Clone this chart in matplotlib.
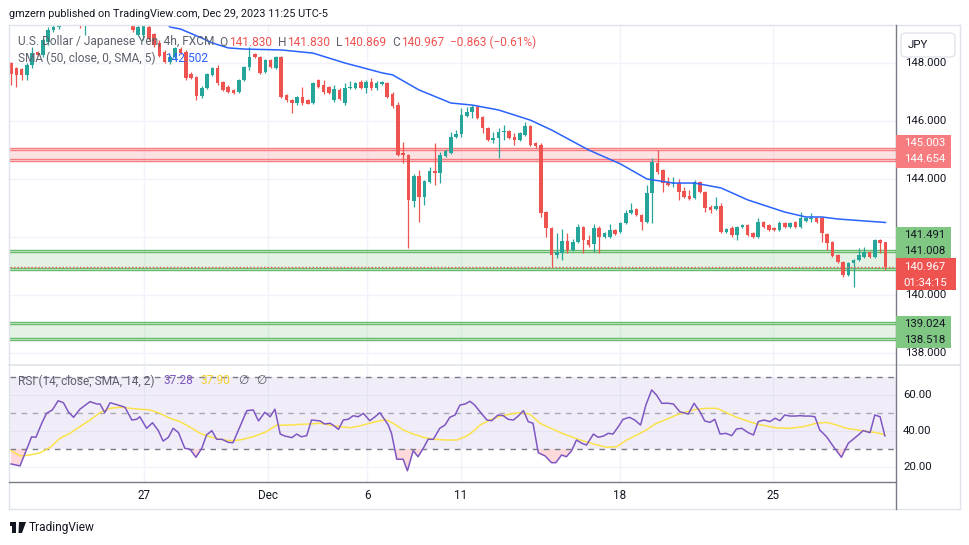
import matplotlib
matplotlib.use("Agg")
import matplotlib.pyplot as plt
import matplotlib.transforms as mtransforms
from matplotlib.patches import Rectangle, FancyBboxPatch, Polygon
from matplotlib.lines import Line2D
import numpy as np

# ---- data (USDJPY 4h, FXCM) ----
opens = [
    148.00, 147.83, 147.79, 147.59, 147.93, 148.38, 148.28, 148.72, 149.14,
    149.24, 149.55, 149.45, 149.62, 149.48, 149.30, 149.55, 149.70, 149.58, 149.45, 149.38, 149.58, 149.72, 149.60,
    149.45, 148.97, 148.95, 149.24, 149.00, 148.70, 148.38, 148.03, 148.20, 148.48,
    148.38, 147.62, 147.52, 146.86, 147.14, 147.59, 147.83, 147.34, 147.17, 147.07,
    147.00, 147.41, 147.86, 148.31, 148.21, 147.69, 148.10, 147.83,
    148.21, 146.90, 146.72, 146.62, 146.83, 146.72, 146.62, 147.41, 147.24, 147.17,
    146.72, 147.07, 146.62, 147.14, 147.14, 147.34, 147.14, 147.34, 147.14, 147.28,
    147.31, 146.93, 146.55, 144.90, 144.83, 143.24, 144.10, 143.38, 143.90, 144.28,
    144.21, 144.80, 144.90, 145.45, 145.55, 146.17, 146.31, 146.48, 146.14, 145.76,
    145.34, 145.41, 145.62, 145.66, 145.45, 145.34, 145.52, 145.83, 145.24, 145.17,
    142.86, 142.31, 141.38, 141.45, 141.86, 141.55, 141.83, 142.34, 141.90, 141.76,
    142.31, 142.00, 142.00, 142.24, 142.17, 142.48, 142.83, 142.97, 142.76, 142.52,
    143.52, 144.55, 144.31, 143.90, 143.83, 143.86, 143.59, 143.41, 143.34, 143.90,
    143.55, 143.03, 142.97, 143.07, 142.17, 142.31, 142.07, 142.34, 142.41, 142.14,
    142.00, 142.52, 142.41, 142.31, 142.24, 142.48, 142.34, 142.52, 142.34, 142.55,
    142.62, 142.66, 142.66, 142.10, 141.83, 141.38, 141.14, 140.69, 141.10, 141.21,
    141.31, 141.48, 141.31, 141.90, 141.830,
]
highs = [
    148.03, 147.86, 147.83, 148.00, 148.55, 148.41, 148.86, 149.24, 149.45,
    149.65, 149.62, 149.72, 149.66, 149.52, 149.60, 149.78, 149.80, 149.62, 149.50, 149.66, 149.80, 149.85, 149.66,
    149.50, 149.30, 149.35, 149.31, 149.05, 148.80, 148.45, 148.28, 148.55, 148.55,
    148.45, 147.69, 147.55, 147.20, 147.66, 147.86, 147.93, 147.38, 147.24, 147.10,
    147.45, 147.90, 148.55, 148.34, 148.24, 148.14, 148.14, 148.24,
    148.24, 146.93, 146.76, 146.86, 147.17, 146.76, 147.34, 147.45, 147.41, 147.20,
    147.24, 147.14, 147.31, 147.38, 147.34, 147.41, 147.41, 147.48, 147.38, 147.38,
    147.34, 147.00, 146.66, 145.28, 144.86, 144.17, 144.31, 143.97, 144.41, 145.24,
    144.93, 145.03, 145.62, 145.69, 146.45, 146.48, 146.55, 146.55, 146.17, 145.80,
    145.62, 145.76, 145.86, 145.69, 145.59, 145.62, 145.97, 145.86, 145.28, 145.24,
    142.90, 142.34, 142.14, 142.28, 142.14, 141.93, 142.45, 142.38, 142.07, 142.45,
    142.38, 142.17, 142.45, 142.28, 142.52, 142.93, 143.17, 143.00, 142.79, 143.79,
    144.72, 145.00, 144.35, 144.07, 144.07, 144.00, 143.72, 143.62, 143.97, 143.93,
    143.59, 143.10, 143.38, 143.17, 142.31, 142.38, 142.38, 142.45, 142.45, 142.17,
    142.66, 142.55, 142.45, 142.34, 142.55, 142.52, 142.52, 142.55, 142.86, 142.69,
    142.83, 142.69, 142.69, 142.14, 141.86, 141.41, 141.17, 141.14, 141.24, 141.62,
    141.66, 141.52, 141.93, 141.93, 141.830,
]
lows = [
    147.24, 147.17, 147.41, 147.41, 147.83, 148.24, 148.21, 148.62, 149.07,
    149.17, 149.38, 149.41, 149.35, 149.20, 148.97, 149.50, 149.52, 149.30, 149.31, 149.35, 149.52, 149.55, 149.40,
    149.07, 148.93, 148.79, 148.79, 148.55, 148.21, 148.00, 147.97, 148.14, 148.30,
    147.41, 147.45, 146.72, 146.79, 147.10, 147.55, 147.24, 147.03, 146.95, 146.93,
    146.95, 147.38, 147.76, 148.17, 147.62, 147.66, 147.83, 147.79,
    146.79, 146.66, 146.28, 146.55, 146.55, 146.59, 146.59, 147.14, 146.93, 146.93,
    146.66, 146.72, 146.55, 147.10, 147.10, 147.10, 146.97, 147.07, 147.07, 147.24,
    146.79, 146.45, 144.80, 144.55, 141.62, 143.03, 142.52, 143.10, 143.86, 143.79,
    143.86, 144.76, 144.86, 145.41, 145.45, 146.14, 146.10, 146.07, 145.59, 145.31,
    145.24, 144.72, 145.34, 145.38, 145.17, 145.31, 145.48, 145.14, 145.07, 142.69,
    142.00, 140.97, 141.28, 141.21, 141.45, 141.52, 141.79, 141.45, 141.66, 141.48,
    141.45, 141.97, 141.97, 142.07, 142.14, 142.45, 142.79, 142.72, 142.24, 142.48,
    142.48, 144.17, 143.55, 143.76, 143.72, 143.28, 143.34, 143.28, 143.31, 143.52,
    142.86, 142.83, 142.93, 142.14, 142.14, 142.00, 141.90, 142.31, 142.03, 141.97,
    141.97, 142.31, 142.20, 142.20, 142.20, 142.31, 142.31, 142.31, 142.31, 142.52,
    142.52, 142.48, 141.83, 141.55, 141.31, 141.10, 140.62, 140.66, 140.28, 141.17,
    141.28, 141.28, 141.28, 141.45, 140.869,
]
closes = [
    147.62, 147.59, 147.59, 147.93, 148.34, 148.28, 148.79, 149.14, 149.24,
    149.55, 149.45, 149.62, 149.48, 149.30, 149.55, 149.70, 149.58, 149.45, 149.38, 149.58, 149.72, 149.60, 149.48,
    149.14, 149.24, 149.28, 148.83, 148.62, 148.24, 148.05, 148.20, 148.50, 148.36,
    147.48, 147.48, 146.86, 147.14, 147.62, 147.83, 147.31, 147.07, 147.00, 146.97,
    147.41, 147.86, 148.21, 148.20, 147.66, 148.10, 147.86, 148.21,
    146.83, 146.72, 146.62, 146.83, 146.62, 146.60, 147.31, 147.17, 147.00, 146.97,
    147.10, 146.76, 147.14, 147.17, 147.31, 147.14, 147.34, 147.14, 147.31, 147.34,
    146.83, 146.50, 144.83, 144.83, 143.28, 144.10, 143.38, 143.93, 144.28, 144.21,
    144.83, 144.97, 145.45, 145.55, 146.21, 146.31, 146.48, 146.10, 145.76, 145.34,
    145.41, 145.62, 145.66, 145.41, 145.34, 145.59, 145.83, 145.17, 145.14, 142.83,
    142.31, 141.38, 141.48, 141.86, 141.55, 141.83, 142.34, 141.90, 141.72, 142.31,
    142.00, 142.14, 142.24, 142.10, 142.48, 142.83, 142.93, 142.76, 142.52, 143.52,
    144.59, 144.24, 143.86, 143.79, 143.86, 143.55, 143.38, 143.31, 143.90, 143.55,
    143.00, 142.93, 143.07, 142.17, 142.28, 142.07, 142.34, 142.41, 142.07, 142.00,
    142.52, 142.34, 142.24, 142.24, 142.48, 142.34, 142.48, 142.34, 142.66, 142.66,
    142.66, 142.52, 142.14, 141.79, 141.34, 141.14, 140.69, 141.10, 141.21, 141.38,
    141.48, 141.31, 141.90, 141.79, 140.967,
]

# SMA(50), at bar index positions
sma_bar = [29, 30, 32, 36, 38, 41, 44, 51, 57, 63, 70, 72, 77, 83, 87, 92, 98, 102,
           109, 115, 120, 125, 129, 134, 139, 146, 150, 153, 156, 165]
sma_val = [149.45, 149.24, 149.17, 148.86, 148.69, 148.52, 148.48, 148.45, 148.34, 148.00,
           147.66, 147.59, 147.07, 146.62, 146.55, 146.38, 146.03, 145.69, 145.00, 144.52,
           144.00, 143.86, 143.86, 143.69, 143.28, 142.86, 142.69, 142.69, 142.62, 142.50]

# RSI(14) and its SMA(14)
rsi_bar = [0, 1.7, 3.9, 4.7, 5.8, 6.7, 7.8, 8.9, 9.9, 10.8, 11.8, 13.0, 14.9, 16.2, 16.8, 17.7,
           18.7, 20.2, 21.5, 22.8, 23.7, 24.3, 25.6, 26.7, 27.8, 28.7, 29.7, 30.6, 31.6, 32.8,
           33.8, 34.9, 36.0, 36.9, 37.9, 38.8, 39.8, 41.0, 41.9, 43.2, 44.5, 45.7, 46.7, 47.9,
           48.9, 49.8, 50.8, 51.7, 53.0, 53.9, 54.8, 55.8, 56.7, 58.3, 59.2, 60.2, 60.8, 61.8,
           62.7, 63.6, 64.6, 65.5, 66.5, 67.7, 68.7, 69.6, 71.2, 71.8, 72.8, 74.0, 74.8, 75.9,
           76.8, 77.8, 78.7, 79.7, 80.9, 81.9, 82.8, 83.8, 84.7, 85.7, 86.6, 87.5, 88.5, 89.8,
           90.7, 91.9, 92.9, 93.8, 94.8, 95.7, 96.7, 97.6, 98.5, 99.5, 100.8, 102.0, 102.8,
           103.9, 104.8, 105.8, 106.7, 107.7, 108.6, 109.9, 110.8, 111.8, 112.7, 113.6, 114.6,
           115.5, 116.7, 117.7, 118.8, 119.8, 120.9, 121.8, 122.8, 124.0, 125.0, 126.2, 127.8,
           128.9, 130.0, 130.9, 131.9, 132.8, 133.8, 134.9, 136.0, 136.9, 137.9, 139.1, 140.1,
           141.0, 142.1, 143.2, 144.2, 145.1, 146.0, 147.0, 147.9, 148.9, 149.8, 150.8, 151.7,
           152.6, 153.9, 155.2, 156.7, 158.0, 158.9, 159.9, 160.8, 162.1, 163.0, 164.0, 164.9]
rsi_val = [21.7, 20.6, 36.8, 36.5, 44.3, 49.8, 51.7, 56.8, 55.7, 50.7, 47.6, 52.1, 56.3, 55.0, 55.0, 50.2,
           55.7, 54.4, 53.2, 46.1, 46.5, 47.9, 41.5, 44.6, 40.2, 34.4, 36.5, 41.5, 39.1, 30.4,
           29.8, 25.4, 30.4, 37.8, 40.2, 35.4, 35.4, 33.7, 33.5, 42.4, 51.3, 51.7, 45.6, 50.4,
           47.9, 52.1, 38.3, 37.2, 36.3, 38.3, 36.8, 37.4, 46.1, 45.6, 43.9, 44.3, 43.2, 40.9,
           46.1, 46.5, 48.5, 47.9, 49.8, 45.7, 47.9, 50.2, 43.3, 38.7, 24.3, 24.3, 17.9, 29.1,
           25.7, 30.4, 35.4, 35.4, 41.5, 43.3, 47.6, 48.9, 54.4, 55.0, 56.5, 54.4, 50.7, 46.1,
           45.7, 48.9, 48.5, 46.5, 46.1, 48.3, 51.3, 45.2, 44.3, 27.9, 26.1, 22.4, 22.4,
           26.7, 25.7, 29.1, 35.0, 33.2, 32.2, 38.3, 36.5, 37.2, 38.7, 38.3, 42.4,
           46.5, 47.6, 46.1, 43.3, 54.4, 62.8, 60.0, 55.4, 55.4, 55.0, 50.7, 49.4,
           55.4, 50.7, 45.6, 44.8, 46.5, 38.3, 38.7, 37.4, 41.1, 41.5, 39.1, 37.8,
           45.2, 46.1, 45.2, 47.1, 45.7, 48.9, 48.3, 48.3, 48.5, 48.3, 48.3, 47.9,
           40.6, 36.8, 31.3, 25.4, 33.2, 35.4, 37.8, 40.2, 39.1, 48.9, 47.9, 37.3]
rsi_ma_bar = [0, 1.7, 3.6, 5.5, 7.4, 9.2, 11.1, 13.0, 14.9, 16.8, 18.7, 20.6, 22.5, 24.3, 26.2,
              28.1, 30.0, 31.9, 33.8, 35.7, 37.5, 39.4, 41.3, 43.2, 45.7, 48.2, 50.1, 52.6, 54.5,
              56.4, 58.3, 60.2, 62.1, 64.0, 65.8, 67.7, 69.6, 70.9, 72.1, 74.0, 75.9, 77.8, 79.7,
              82.2, 84.1, 86.0, 87.3, 88.5, 90.4, 92.3, 94.2, 96.0, 97.9, 99.8, 102.3, 104.8,
              107.4, 109.9, 112.4, 114.3, 116.2, 118.1, 119.9, 121.8, 123.7, 125.6, 127.5, 129.4,
              131.3, 133.2, 135.0, 136.9, 138.8, 140.7, 142.6, 144.5, 147.0, 149.5, 152.0, 153.9,
              155.8, 157.7, 159.6, 161.5, 163.3, 164.9]
rsi_ma_val = [29.1, 26.1, 26.7, 27.9, 30.9, 35.9, 38.7, 42.4, 46.1, 50.2, 52.6, 53.2, 52.6, 52.1, 51.7,
              49.8, 47.1, 45.2, 42.1, 38.7, 36.8, 35.4, 34.6, 35.0, 36.8, 39.6, 43.2, 43.3, 43.7,
              43.9, 44.3, 43.3, 42.4, 41.8, 42.8, 44.3, 45.7, 46.1, 44.3, 40.6, 38.3, 36.5, 35.4,
              35.0, 35.0, 37.2, 40.0, 43.3, 46.1, 48.3, 49.4, 50.2, 49.4, 44.3, 40.9, 37.8,
              35.0, 32.8, 30.9, 31.3, 35.0, 37.8, 40.6, 44.3, 46.5, 48.9, 50.7, 52.1,
              52.6, 52.6, 50.2, 47.6, 45.7, 43.9, 42.8, 41.7, 41.5, 42.4, 44.3, 44.8,
              43.3, 41.5, 40.6, 39.8, 39.1, 37.9]

# zones (bottom, top)
resist_zone = (144.67, 145.02)
support_zone_1 = (140.90, 141.52)
support_zone_2 = (138.48, 139.04)

tick_pos = [25.1, 48.5, 67.2, 84.9, 114.9, 143.8]
tick_labels = ["27", "Dec", "6", "11", "18", "25"]
price_ticks = [138, 140, 142, 144, 146, 148]
price_labels_shown = [138, 140, 144, 146, 148]  # 142 sits under a badge
rsi_ticks = [20, 40, 60]

last_price = 140.967
sma_last = 142.502
rsi_last = 37.28
rsi_ma_last = 37.90

# ---- styling ----
plt.rcParams["font.family"] = ["Roboto", "DejaVu Sans"]
UP = "#26a69a"
DOWN = "#ef5350"
GRID = "#f0f3fa"
TXT = "#131722"
GRAY = "#5d606b"
W, H = 970, 545


def fx(px):
    return px / W


def fy(py):
    return 1 - py / H


fig = plt.figure(figsize=(9.7, 5.45), dpi=100)
fig.patch.set_facecolor("white")

ax = fig.add_axes([fx(10), fy(364), fx(896) - fx(10), fy(25) - fy(364)])
ax_rsi = fig.add_axes([fx(10), fy(482), fx(896) - fx(10), fy(366) - fy(482)])

for a in (ax, ax_rsi):
    a.set_xlim(-0.19, 167.0)
    for s in a.spines.values():
        s.set_visible(False)
    a.set_xticks(tick_pos)
    a.grid(True, color=GRID, lw=1)
    a.set_axisbelow(True)
    a.tick_params(length=0, labelleft=False, labelbottom=False)

ax.set_ylim(137.62, 149.31)
ax.set_yticks(price_ticks)
ax_rsi.set_ylim(11.67, 76.1)
ax_rsi.set_yticks(rsi_ticks)
ax_rsi.set_xticklabels(tick_labels)
ax_rsi.tick_params(labelbottom=True, pad=5, labelsize=8.4, labelcolor=TXT)


# zones
def zone(bounds, line_col, fill_col):
    lo, hi = bounds
    ax.axhspan(lo - 0.04, hi + 0.04, color=fill_col, alpha=0.22, lw=0, zorder=1)
    for y in (lo - 0.04, lo + 0.03, hi - 0.03, hi + 0.04):
        ax.axhline(y, color=line_col, lw=1, zorder=1.5)


zone(resist_zone, "#f77c80", "#f77c80")
zone(support_zone_1, "#66bb6a", "#81c784")
zone(support_zone_2, "#66bb6a", "#81c784")

# candles
o = np.array(opens)
h = np.array(highs)
l = np.array(lows)
c = np.array(closes)
idx = np.arange(len(o))
cols = np.where(c >= o, UP, DOWN)
ax.vlines(idx, l, h, colors=cols, lw=0.9, zorder=3)
ax.bar(idx, np.maximum(np.abs(c - o), 0.035), bottom=np.minimum(o, c),
       width=0.68, color=cols, lw=0, zorder=3)

ax.plot(sma_bar, sma_val, color="#2962ff", lw=1.1, zorder=4)
ax.axhline(last_price, color=DOWN, lw=1, ls=(0, (1, 1.5)), zorder=4)

# RSI pane
ax_rsi.axhspan(30, 70, color="#7e57c2", alpha=0.1, lw=0)
for lvl, al in ((70, 1), (50, 0.6), (30, 1)):
    ax_rsi.axhline(lvl, color="#787b86", lw=1, ls=(0, (4, 4)), alpha=al)
rx = np.array(rsi_bar)
rv = np.array(rsi_val)
ax_rsi.fill_between(rx, rv, 30, where=rv < 30, interpolate=True, color="#f7525f", alpha=0.22, lw=0)
ax_rsi.plot(rsi_ma_bar, rsi_ma_val, color="#fbe24b", lw=1.1)
ax_rsi.plot(rx, rv, color="#7e57c2", lw=1.1)


# frame lines
def fline(x0, y0, x1, y1, col, lw=1):
    fig.add_artist(Line2D([fx(x0), fx(x1)], [fy(y0), fy(y1)], color=col, lw=lw))


fline(9, 25, 960, 25, "#e0e3eb")
fline(9, 509, 960, 509, "#e0e3eb")
fline(9, 25, 9, 509, "#e0e3eb")
fline(960, 25, 960, 509, "#e0e3eb")
fline(9, 365, 960, 365, "#e0e3eb", lw=1.2)
fline(9, 482, 896, 482, "#787b86")
fline(896, 25, 896, 509, "#787b86")

# price axis labels
ytr = mtransforms.blended_transform_factory(fig.transFigure, ax.transData)
for p in price_labels_shown:
    ax.text(fx(905), p, f"{p:.3f}", transform=ytr, fontsize=8.2, color=TXT,
            va="center", ha="left", clip_on=False, zorder=5)
rtr = mtransforms.blended_transform_factory(fig.transFigure, ax_rsi.transData)
for r in rsi_ticks:
    ax_rsi.text(fx(903), r, f"{r:.2f}", transform=rtr, fontsize=8.2, color=TXT,
                va="center", ha="left", clip_on=False, zorder=5)


def badge(top, bottom, right, bg, lines):
    fig.add_artist(Rectangle((fx(896), fy(bottom)), fx(right) - fx(896), fy(top) - fy(bottom),
                             transform=fig.transFigure, facecolor=bg, edgecolor="none", zorder=10))
    for yc, s, col in lines:
        fig.text(fx(925), fy(yc), s, color=col, fontsize=8.2, ha="center", va="center", zorder=11)


badge(135, 168, 951, "#f77c80", [(143, "145.003", "white"), (159.5, "144.654", "white")])
badge(227, 258, 951, "#81c784", [(235, "141.491", TXT), (250.5, "141.008", TXT)])
badge(258, 290, 956, "#ef5350", [(267, f"{last_price:.3f}", "white"), (282.5, "01:34:15", "white")])
badge(316, 348, 951, "#81c784", [(324, "139.024", TXT), (340, "138.518", TXT)])

# currency box
fig.add_artist(FancyBboxPatch((fx(901), fy(57)), fx(955) - fx(901), fy(33) - fy(57),
                              boxstyle="round,pad=0,rounding_size=0.006",
                              transform=fig.transFigure, facecolor="white",
                              edgecolor="#e0e3eb", lw=1, zorder=10))
fig.text(fx(908), fy(45), "JPY", fontsize=8.2, color=TXT, va="center", ha="left", zorder=11)

# legends
renderer = fig.canvas.get_renderer()


def segments(x, y, parts, size=8.6):
    for s, col, gap in parts:
        t = fig.text(fx(x), fy(y), s, color=col, fontsize=size, va="center", ha="left", zorder=12)
        x += t.get_window_extent(renderer).width + gap


fig.text(fx(9), fy(14), "gmzern published on TradingView.com, Dec 29, 2023 11:25 UTC-5",
         fontsize=7.8, color=TXT, va="center", ha="left")
segments(18, 42, [("U.S. Dollar / Japanese Yen, 4h, FXCM", GRAY, 5),
                  ("O", GRAY, 1), ("141.830", DOWN, 6),
                  ("H", GRAY, 1), ("141.830", DOWN, 6),
                  ("L", GRAY, 1), ("140.869", DOWN, 6),
                  ("C", GRAY, 1), ("140.967", DOWN, 6),
                  ("\u22120.863 (\u22120.61%)", DOWN, 0)])
segments(18, 58, [("SMA (50, close, 0, SMA, 5)", GRAY, 10), (f"{sma_last:.3f}", "#2962ff", 0)])
segments(18, 381, [("RSI (14, close, SMA, 14, 2)", GRAY, 9), (f"{rsi_last:.2f}", "#7e57c2", 7),
                   (f"{rsi_ma_last:.2f}", "#f2d12e", 8), ("\u2205", GRAY, 8), ("\u2205", GRAY, 0)])

# TradingView footer
fig.add_artist(Rectangle((fx(10), fy(526)), fx(6), fy(522) - fy(526), transform=fig.transFigure,
                         facecolor=TXT, edgecolor="none"))
fig.add_artist(Rectangle((fx(12.5), fy(533)), fx(3.5), fy(522) - fy(533), transform=fig.transFigure,
                         facecolor=TXT, edgecolor="none"))
fig.add_artist(Polygon([(fx(19), fy(522)), (fx(26), fy(522)), (fx(22), fy(533)), (fx(18.5), fy(533))],
                       closed=True, transform=fig.transFigure, facecolor=TXT, edgecolor="none"))
fig.text(fx(29), fy(527.5), "TradingView", fontsize=8.6, color=TXT, va="center", ha="left")

fig.savefig("out.png", dpi=100)
